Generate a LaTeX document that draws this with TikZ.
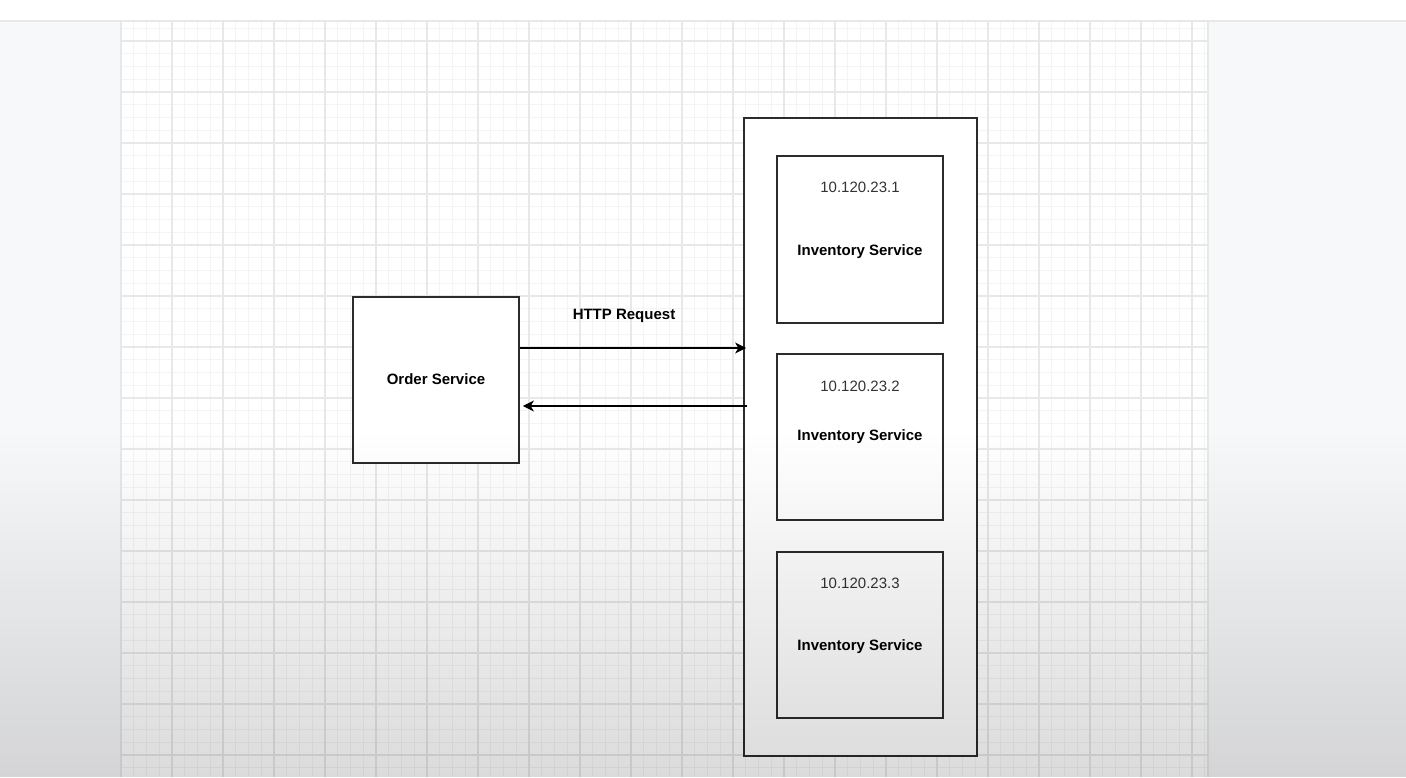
\documentclass[tikz,border=0pt]{standalone}
\usepackage{fontspec}
\setmainfont{Liberation Sans}
\usetikzlibrary{arrows.meta,fadings}
\definecolor{canvasout}{HTML}{F7F8FA}
\definecolor{gridminor}{HTML}{F4F4F4}
\definecolor{gridmajor}{HTML}{E8E8E8}
\definecolor{boxline}{HTML}{2B2B2B}
\begin{document}
\begin{tikzpicture}[x=0.5pt,y=-0.5pt,
  box/.style={draw=boxline,line width=0.9pt,fill=none,minimum width=83pt,minimum height=83pt,inner sep=0pt},
  lbl/.style={font=\fontsize{7.5}{9}\selectfont\bfseries,text=black,inner sep=0pt},
  iptxt/.style={font=\fontsize{7.5}{9}\selectfont,text=black!80,inner sep=0pt},
  arr/.style={draw=black,line width=0.7pt,-{Stealth[length=5.5pt,width=5.5pt,inset=1.6pt]}}]
\useasboundingbox (0,0) rectangle (1406,777);
% background
\fill[canvasout] (0,0) rectangle (1406,777);
\fill[white] (120,22) rectangle (1208,777);
\fill[white] (0,0) rectangle (1406,20);
\draw[gridmajor,line width=0.6pt] (0,21) -- (1406,21);
% grid
\foreach \i in {0,...,85} {\draw[gridminor,line width=0.4pt] ({121+12.75*\i},22) -- ({121+12.75*\i},777);}
\foreach \j in {0,...,59} {\draw[gridminor,line width=0.4pt] (120,{28.25+12.75*\j}) -- (1208,{28.25+12.75*\j});}
\foreach \i in {0,...,21} {\draw[gridmajor,line width=0.6pt] ({121+51*\i},22) -- ({121+51*\i},777);}
\foreach \j in {0,...,14} {\draw[gridmajor,line width=0.6pt] (120,{41+51*\j}) -- (1208,{41+51*\j});}
\draw[gridmajor,line width=0.8pt] (1208,22) -- (1208,777);
% container and boxes
\node[box,fill=white,minimum width=116.5pt,minimum height=319pt] (cont) at (860.5,437) {};
\node[box,fill=white,minimum height=83.5pt] (inv1) at (860,239.5) {};
\node[box,fill=white] (inv2) at (860,437) {};
\node[box,fill=white] (inv3) at (860,635) {};
\node[box,fill=white] (order) at (436,380) {};
% texts
\node[lbl] (ordlbl) at (436,379) {Order Service};
\node[iptxt] (ip1) at (860,187) {10.120.23.1};
\node[lbl] (lab1) at (860,252) {Inventory Service};
\node[iptxt] (ip2) at (860,386) {10.120.23.2};
\node[lbl] (lab2) at (860,437) {Inventory Service};
\node[iptxt] (ip3) at (860,583) {10.120.23.3};
\node[lbl] (lab3) at (860,647) {Inventory Service};
\node[lbl] (http) at (624,316) {HTTP Request};
% connectors
\coordinate (r1) at (0,348);
\coordinate (r2) at (0,406);
\draw[arr] (order.east |- r1) -- ([xshift=1.5pt]cont.west |- r1);
\draw[arr] ([xshift=2pt]cont.west |- r2) -- ([xshift=1.5pt]order.east |- r2);
% bottom darkening of the screenshot
\fill[black,opacity=0.14,path fading=north] (0,430) rectangle (1406,777);
\end{tikzpicture}
\end{document}
